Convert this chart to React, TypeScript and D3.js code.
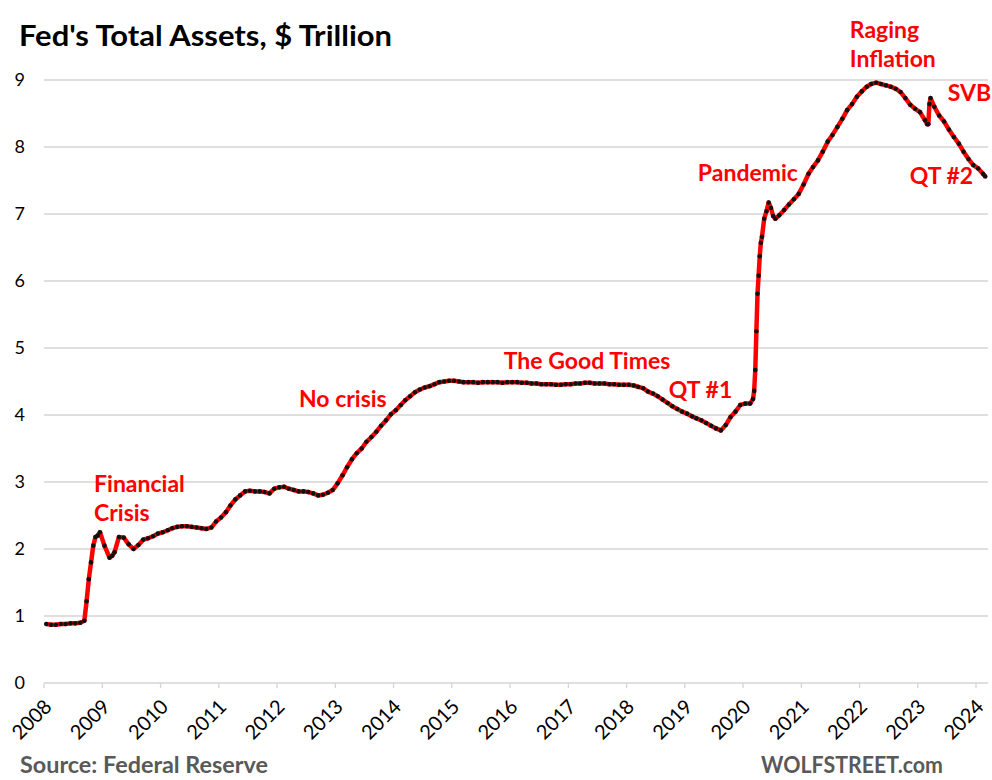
import * as d3 from "d3";

// weekly-ish readings of the Fed balance sheet, $ trillion
const fedAssets: [string, number][] = [
  ["2008-01-15", 0.88], ["2008-02-15", 0.87], ["2008-03-15", 0.87], ["2008-04-15", 0.88],
  ["2008-05-15", 0.88], ["2008-06-15", 0.89], ["2008-07-15", 0.89], ["2008-08-15", 0.9],
  ["2008-09-10", 0.93], ["2008-09-24", 1.22], ["2008-10-08", 1.55], ["2008-10-22", 1.8],
  ["2008-11-05", 2.05], ["2008-11-19", 2.18], ["2008-12-03", 2.2], ["2008-12-17", 2.25],
  ["2009-01-14", 2.05], ["2009-02-15", 1.87], ["2009-03-04", 1.9], ["2009-03-18", 1.95],
  ["2009-04-15", 2.18], ["2009-05-15", 2.17], ["2009-06-15", 2.07], ["2009-07-15", 2.0],
  ["2009-08-15", 2.06], ["2009-09-15", 2.14], ["2009-10-15", 2.16], ["2009-11-15", 2.19],
  ["2009-12-15", 2.23],
  ["2010-01-15", 2.25], ["2010-02-15", 2.28], ["2010-03-15", 2.31], ["2010-04-15", 2.33],
  ["2010-05-15", 2.34], ["2010-06-15", 2.34], ["2010-07-15", 2.33], ["2010-08-15", 2.32],
  ["2010-09-15", 2.31], ["2010-10-15", 2.3], ["2010-11-15", 2.32], ["2010-12-15", 2.41],
  ["2011-01-15", 2.47], ["2011-02-15", 2.55], ["2011-03-15", 2.65], ["2011-04-15", 2.74],
  ["2011-05-15", 2.8], ["2011-06-15", 2.86], ["2011-07-15", 2.87], ["2011-08-15", 2.86],
  ["2011-09-15", 2.86], ["2011-10-15", 2.85], ["2011-11-15", 2.83], ["2011-12-15", 2.9],
  ["2012-01-15", 2.92], ["2012-02-15", 2.93], ["2012-03-15", 2.9], ["2012-04-15", 2.88],
  ["2012-05-15", 2.86], ["2012-06-15", 2.86], ["2012-07-15", 2.85], ["2012-08-15", 2.83],
  ["2012-09-15", 2.8], ["2012-10-15", 2.81], ["2012-11-15", 2.84], ["2012-12-15", 2.88],
  ["2013-01-15", 2.98], ["2013-02-15", 3.1], ["2013-03-15", 3.22], ["2013-04-15", 3.34],
  ["2013-05-15", 3.43], ["2013-06-15", 3.5], ["2013-07-15", 3.6], ["2013-08-15", 3.67],
  ["2013-09-15", 3.75], ["2013-10-15", 3.84], ["2013-11-15", 3.92], ["2013-12-15", 4.01],
  ["2014-01-15", 4.07], ["2014-02-15", 4.15], ["2014-03-15", 4.22], ["2014-04-15", 4.28],
  ["2014-05-15", 4.34], ["2014-06-15", 4.38], ["2014-07-15", 4.41], ["2014-08-15", 4.43],
  ["2014-09-15", 4.46], ["2014-10-15", 4.49], ["2014-11-15", 4.5], ["2014-12-15", 4.51],
  ["2015-01-15", 4.51], ["2015-02-15", 4.5], ["2015-03-15", 4.49], ["2015-04-15", 4.49],
  ["2015-05-15", 4.49], ["2015-06-15", 4.48], ["2015-07-15", 4.49], ["2015-08-15", 4.49],
  ["2015-09-15", 4.49], ["2015-10-15", 4.49], ["2015-11-15", 4.48], ["2015-12-15", 4.49],
  ["2016-01-15", 4.49], ["2016-02-15", 4.49], ["2016-03-15", 4.48], ["2016-04-15", 4.48],
  ["2016-05-15", 4.47], ["2016-06-15", 4.47], ["2016-07-15", 4.46], ["2016-08-15", 4.46],
  ["2016-09-15", 4.46], ["2016-10-15", 4.45], ["2016-11-15", 4.45], ["2016-12-15", 4.46],
  ["2017-01-15", 4.46], ["2017-02-15", 4.47], ["2017-03-15", 4.47], ["2017-04-15", 4.48],
  ["2017-05-15", 4.48], ["2017-06-15", 4.47], ["2017-07-15", 4.47], ["2017-08-15", 4.47],
  ["2017-09-15", 4.46], ["2017-10-15", 4.46], ["2017-11-15", 4.45], ["2017-12-15", 4.45],
  ["2018-01-15", 4.45], ["2018-02-15", 4.44], ["2018-03-15", 4.42], ["2018-04-15", 4.4],
  ["2018-05-15", 4.35], ["2018-06-15", 4.32], ["2018-07-15", 4.28], ["2018-08-15", 4.23],
  ["2018-09-15", 4.18], ["2018-10-15", 4.13], ["2018-11-15", 4.09], ["2018-12-15", 4.05],
  ["2019-01-15", 4.02], ["2019-02-15", 3.98], ["2019-03-15", 3.95], ["2019-04-15", 3.92],
  ["2019-05-15", 3.88], ["2019-06-15", 3.84], ["2019-07-15", 3.8], ["2019-08-15", 3.77],
  ["2019-09-15", 3.85], ["2019-10-15", 3.97], ["2019-11-15", 4.05], ["2019-12-15", 4.15],
  ["2020-01-15", 4.17], ["2020-02-15", 4.17], ["2020-03-04", 4.24], ["2020-03-11", 4.36],
  ["2020-03-18", 4.67], ["2020-03-25", 5.25], ["2020-04-01", 5.81], ["2020-04-08", 6.08],
  ["2020-04-15", 6.37], ["2020-04-22", 6.57], ["2020-04-29", 6.66], ["2020-05-13", 6.93],
  ["2020-05-27", 7.04], ["2020-06-10", 7.17], ["2020-06-24", 7.09], ["2020-07-08", 6.97],
  ["2020-07-22", 6.93], ["2020-08-15", 6.98], ["2020-09-15", 7.06], ["2020-10-15", 7.14],
  ["2020-11-15", 7.22], ["2020-12-15", 7.3],
  ["2021-01-15", 7.44], ["2021-02-15", 7.6], ["2021-03-15", 7.7], ["2021-04-15", 7.8],
  ["2021-05-15", 7.93], ["2021-06-15", 8.08], ["2021-07-15", 8.18], ["2021-08-15", 8.3],
  ["2021-09-15", 8.42], ["2021-10-15", 8.55], ["2021-11-15", 8.64], ["2021-12-15", 8.75],
  ["2022-01-15", 8.83], ["2022-02-15", 8.9], ["2022-03-15", 8.94], ["2022-04-15", 8.96],
  ["2022-05-15", 8.94], ["2022-06-15", 8.92], ["2022-07-15", 8.9], ["2022-08-15", 8.87],
  ["2022-09-15", 8.82], ["2022-10-15", 8.73], ["2022-11-15", 8.63], ["2022-12-15", 8.57],
  ["2023-01-15", 8.52], ["2023-02-15", 8.4], ["2023-03-01", 8.34], ["2023-03-08", 8.34],
  ["2023-03-15", 8.64], ["2023-03-22", 8.73], ["2023-04-15", 8.6], ["2023-05-15", 8.47],
  ["2023-06-15", 8.38], ["2023-07-15", 8.26], ["2023-08-15", 8.15], ["2023-09-15", 8.05],
  ["2023-10-15", 7.93], ["2023-11-15", 7.82], ["2023-12-15", 7.73],
  ["2024-01-15", 7.68], ["2024-02-14", 7.6], ["2024-02-28", 7.56],
];

const years = [2008, 2009, 2010, 2011, 2012, 2013, 2014, 2015, 2016, 2017, 2018, 2019, 2020, 2021, 2022, 2023, 2024];
const yTicks = [0, 1, 2, 3, 4, 5, 6, 7, 8, 9];

// label, left edge (date), baseline (value)
const notes: [string, string, number][] = [
  ["Financial", "2008-11-10", 2.85],
  ["Crisis", "2008-11-10", 2.42],
  ["No crisis", "2012-05-18", 4.12],
  ["The Good Times", "2015-11-23", 4.69],
  ["QT #1", "2018-09-23", 4.25],
  ["Pandemic", "2019-03-24", 7.5],
  ["Raging", "2021-11-01", 9.62],
  ["Inflation", "2021-11-01", 9.19],
  ["SVB", "2023-07-08", 8.68],
  ["QT #2", "2022-11-12", 7.45],
];

const W = 992, H = 780;
const FONT = "Lato, 'Open Sans', sans-serif";

export default function App() {
  const parse = d3.timeParse("%Y-%m-%d");
  const x = d3.scaleTime()
    .domain([new Date(2008, 0, 1), new Date(2024, 0, 1)])
    .range([44, 976]);
  const y = d3.scaleLinear().domain([0, 9]).range([683, 80]);

  const pts = fedAssets.map(([d, v]) => ({ date: parse(d) as Date, v }));
  const line = d3.line<{ date: Date; v: number }>()
    .x(d => x(d.date))
    .y(d => y(d.v));

  return (
    <svg width={W} height={H} style={{ position: "absolute", left: 0, top: 0, background: "#fff" }}
      fontFamily={FONT}>
      <text x={19} y={46} fontSize={29} fontWeight={700} fill="#000"
        textLength={373} lengthAdjust="spacingAndGlyphs">Fed's Total Assets, $ Trillion</text>

      {yTicks.map(t => (
        <g key={t}>
          <line x1={44} x2={988} y1={y(t)} y2={y(t)} stroke="#d4d4d4" strokeWidth={1.3} />
          <text x={25} y={y(t)} dy="0.35em" textAnchor="end" fontSize={18} fill="#000">{t}</text>
        </g>
      ))}

      {years.map(yr => {
        const tx = x(new Date(yr, 0, 1));
        return (
          <g key={yr}>
            <line x1={tx} x2={tx} y1={683} y2={688} stroke="#d4d4d4" strokeWidth={1.3} />
            <text transform={`translate(${tx + 4},${703}) rotate(-45)`} textAnchor="end"
              dy="0.35em" fontSize={20} fill="#000">{yr}</text>
          </g>
        );
      })}

      <path d={line(pts) ?? ""} fill="none" stroke="#ff0000" strokeWidth={4.5} strokeLinejoin="round" />
      {pts.map((p, i) => (
        <circle key={i} cx={x(p.date)} cy={y(p.v)} r={2.3} fill="#111" />
      ))}

      {notes.map(([label, d, v]) => (
        <text key={label} x={x(parse(d) as Date)} y={y(v)} fontSize={23} fontWeight={700} fill="#ff0000">{label}</text>
      ))}

      <text x={20} y={773} fontSize={22} fontWeight={700} fill="#595959"
        textLength={248} lengthAdjust="spacingAndGlyphs">Source: Federal Reserve</text>
      <text x={761} y={773} fontSize={22} fontWeight={700} fill="#595959"
        textLength={182} lengthAdjust="spacingAndGlyphs">WOLFSTREET.com</text>
    </svg>
  );
}
